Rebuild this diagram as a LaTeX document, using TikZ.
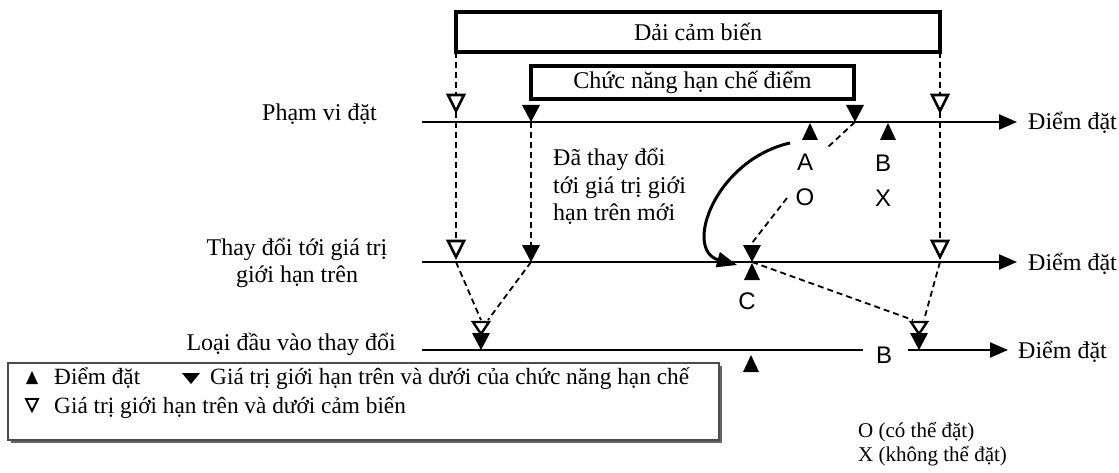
\documentclass[tikz,border=0pt]{standalone}
\usepackage{fontspec}
\setmainfont{Liberation Serif}
\newfontfamily\arialfont{Liberation Sans}
\usetikzlibrary{arrows.meta}

% filled marker pointing down, apex at the given point (limit function)
\newcommand\limitmark[1]{\fill (#1) -- ++(-9,-17) -- ++(18,0) -- cycle;}
% filled marker pointing up, apex at the given point (set point)
\newcommand\pointmark[1]{\fill (#1) -- ++(-8,17) -- ++(16,0) -- cycle;}
% hollow marker pointing down, apex at the given point (sensor range)
\newcommand\sensormark[1]{\draw[line width=2.6pt, fill=white] (#1) -- ++(-8,-16) -- ++(16,0) -- cycle;}
% flatter hollow marker used in the stacked pairs
\newcommand\sensormarkflat[1]{\draw[line width=2.4pt, fill=white] (#1) -- ++(-8,-12) -- ++(16,0) -- cycle;}

\begin{document}
\begin{tikzpicture}[x=1pt,y=-1pt]
\tikzset{
  axisline/.style={line width=2.2pt, -{Triangle[length=18pt,width=15pt]}},
  plainline/.style={line width=2.2pt},
  guide/.style={line width=1.8pt, dash pattern=on 6pt off 4pt},
  bandbox/.style={draw, line width=3.5pt, outer sep=0pt, inner sep=0pt,
                  font=\fontsize{24}{28}\selectfont},
  txt/.style={inner sep=0pt, font=\fontsize{24}{28}\selectfont},
  keytxt/.style={inner sep=0pt, font=\fontsize{23.3}{27}\selectfont},
  smalltxt/.style={inner sep=0pt, font=\fontsize{21}{25}\selectfont},
  lettertxt/.style={inner sep=0pt, font=\arialfont\fontsize{24}{28}\selectfont},
}
\useasboundingbox (0,0) rectangle (1119,473);

% ---- range boxes
\node[bandbox, anchor=north west, minimum width=484pt, minimum height=40pt]
  (sensor) at (456,12) {Dải cảm biến};
\node[bandbox, anchor=north west, minimum width=323pt, minimum height=33pt]
  (limit) at (531,66) {Chức năng hạn chế điểm};

% ---- three axes
\coordinate (a1s) at (422,122); \coordinate (a1e) at (1017,122);
\coordinate (a2s) at (422,262); \coordinate (a2e) at (1017,262);
\coordinate (a3s) at (422,350); \coordinate (a3m) at (863,350);
\coordinate (a3n) at (908,350); \coordinate (a3e) at (1008,350);
\draw[axisline] (a1s) -- (a1e);
\draw[axisline] (a2s) -- (a2e);
\draw[plainline] (a3s) -- (a3m);
\draw[axisline] (a3n) -- (a3e);

% ---- marker positions
\coordinate (sL1) at (456,122);  \coordinate (sL2) at (456,262);
\coordinate (sR1) at (940,122);  \coordinate (sR2) at (940,262);
\coordinate (lL1) at (531,122);  \coordinate (lL2) at (531,262);
\coordinate (lL2top) at (531,246);
\coordinate (lR1) at (855,122);  \coordinate (lR2) at (752,262);
\coordinate (lR2top) at (752,243);
\coordinate (inL) at (481,350);  \coordinate (inLtop) at (481,320);
\coordinate (inR) at (919,350);  \coordinate (inRtop) at (919,320);
\coordinate (pA) at (810,123);   \coordinate (pB) at (888,123);
\coordinate (pC) at (752,263);   \coordinate (pD) at (751,355);

% ---- dashed guides
\draw[guide] (sensor.south west) -- (sL2) -- (inLtop);
\draw[guide] (sensor.south east) -- (sR2) -- ([xshift=5pt]inRtop);
\draw[guide] (lL1) -- (lL2top);
\draw[guide] (lL2) -- ([xshift=7pt]inLtop);
\coordinate (g1) at (828,147); \coordinate (g2) at (787,198);
\draw[guide] (lR1) -- (g1);
\draw[guide] (g2) -- (lR2top);
\draw[guide] (lR2) -- ([xshift=-6pt]inRtop);

% ---- curved move to the new upper limit
\coordinate (cv0) at (790,143); \coordinate (cv1) at (737,265);
\draw[line width=3pt, -{Triangle[length=20pt,width=15pt]}]
  (cv0) .. controls (715,160) and (683,250) .. (cv1);

% ---- markers
\sensormark{456,111}  \sensormark{940,111}
\sensormark{456,257}  \sensormark{940,257}
\limitmark{lL1} \limitmark{lR1}
\limitmark{lL2} \limitmark{lR2}
\sensormarkflat{481,334} \sensormarkflat{919,334}
\limitmark{inL} \limitmark{inR}
\pointmark{pA} \pointmark{pB} \pointmark{pC} \pointmark{pD}

% ---- letters
\node[lettertxt] (tA) at (805,162) {A};
\node[lettertxt] (tO) at (805,197) {O};
\node[lettertxt] (tB) at (883,163) {B};
\node[lettertxt] (tX) at (883,198) {X};
\node[lettertxt] (tC) at (747,301) {C};
\node[lettertxt] (tB3) at (884,355) {B};

% ---- axis labels
\node[txt, anchor=base west] (lRange) at (262,121) {Phạm vi đặt};
\node[txt, anchor=base] (lUp1) at (297,255) {Thay đổi tới giá trị};
\node[txt, anchor=base] (lUp2) at (297,282) {giới hạn trên};
\node[txt, anchor=base east] (lIn) at (396,350) {Loại đầu vào thay đổi};
\node[txt, anchor=base west] (e1) at (1028,130) {Điểm đặt};
\node[txt, anchor=base west] (e2) at (1028,270) {Điểm đặt};
\node[txt, anchor=base west] (e3) at (1018,358) {Điểm đặt};

\node[txt, anchor=base west] (n1) at (553,166) {Đã thay đổi};
\node[txt, anchor=base west] (n2) at (553,194) {tới giá trị giới};
\node[txt, anchor=base west] (n3) at (553,221) {hạn trên mới};

% ---- legend
\draw[line width=2pt, black!60] (721,366) -- (721,442) -- (11,442);
\node[draw=black!70, line width=2pt, outer sep=0pt, anchor=north west,
      minimum width=711pt, minimum height=77pt] (legend) at (8,363) {};
\fill (32,371) -- (38,384) -- (26,384) -- cycle;
\node[keytxt, anchor=base west] (k1) at (54,384) {Điểm đặt};
\fill (182,373) -- (200,373) -- (191,384) -- cycle;
\node[keytxt, anchor=base west] (k2) at (210,384) {Giá trị giới hạn trên và dưới của chức năng hạn chế};
\draw[line width=1.8pt] (26,399) -- (38,399) -- (32,411) -- cycle;
\node[keytxt, anchor=base west] (k3) at (54,413) {Giá trị giới hạn trên và dưới cảm biến};

\node[smalltxt, anchor=base west] (ok) at (858,437) {O (có thể đặt)};
\node[smalltxt, anchor=base west] (ng) at (858,461) {X (không thể đặt)};
\end{tikzpicture}
\end{document}
